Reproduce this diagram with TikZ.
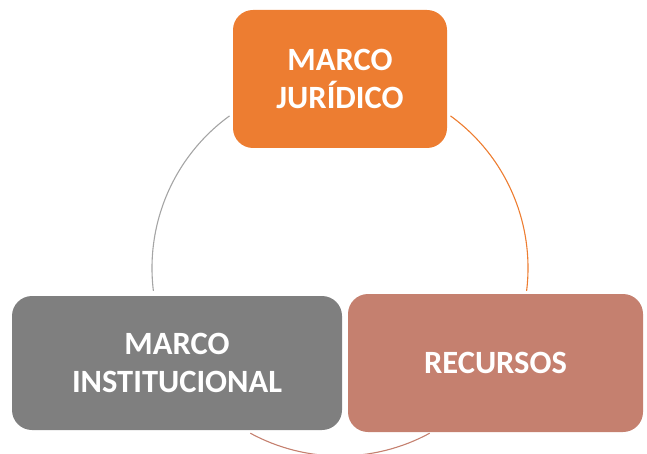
\documentclass[tikz,border=0pt]{standalone}
\usepackage{fontspec}
\setmainfont{Carlito}
\usepackage{xcolor}
\usepackage{tikz}
\usetikzlibrary{positioning}
\definecolor{naranja}{HTML}{ED7D31}
\definecolor{gris}{HTML}{7F7F7F}
\definecolor{grisclaro}{HTML}{A5A5A5}
\definecolor{terracota}{HTML}{C5806F}

\begin{document}
\begin{tikzpicture}[x=1pt, y=1pt,
      font=\fontsize{32.5}{38}\selectfont\bfseries,
      caja/.style={rounded corners=20pt, align=center, text=white,
                   inner sep=0pt, minimum height=138pt},
      arco/.style={line width=1.1pt}]
    \useasboundingbox (0,0) rectangle (647,453);
    \coordinate (c) at (340,185);
    \node[caja, fill=naranja, minimum width=214pt] (jur) at (340,374) {MARCO\\JUR\'IDICO};
    \node[caja, fill=gris, minimum width=330pt, minimum height=134pt] (inst) at (177,90) {MARCO\\INSTITUCIONAL};
    \node[caja, fill=terracota, minimum width=295pt] (rec) at (495.5,90) {RECURSOS};
    % arcos del ciclo
    \draw[arco, naranja] ([shift={(54:188)}]c) arc[start angle=54, end angle=-7, radius=188];
    \draw[arco, terracota] ([shift={(-61.5:188)}]c) arc[start angle=-61.5, end angle=-118.5, radius=188];
    \draw[arco, grisclaro] ([shift={(187:188)}]c) arc[start angle=187, end angle=126, radius=188];
  \end{tikzpicture}
\end{document}
